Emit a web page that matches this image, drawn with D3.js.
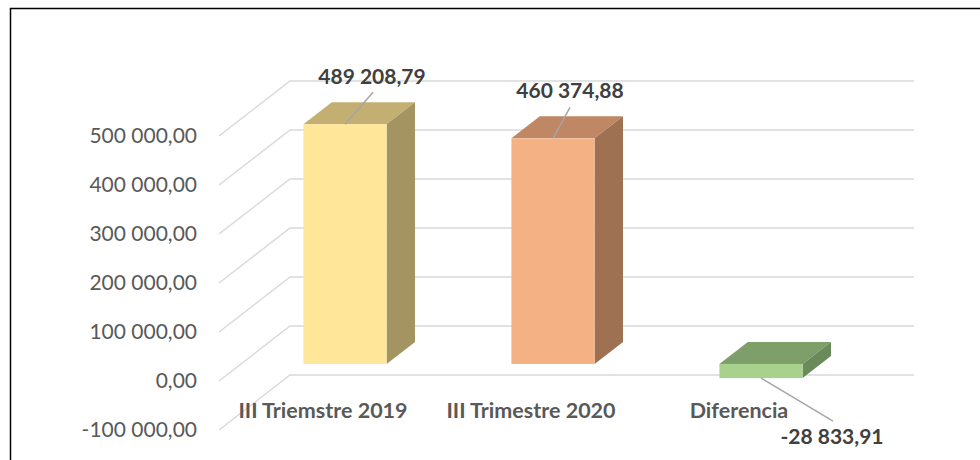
<!DOCTYPE html>
<html>
<head>
<meta charset="utf-8">
<script src="https://cdn.jsdelivr.net/npm/d3@7"></script>
<style>
  body { margin: 0; background: #fff; }
  svg { display: block; }
</style>
</head>
<body>
<svg id="chart" width="980" height="460"></svg>
<script>
// data
let categories = ["III Triemstre 2019", "III Trimestre 2020", "Diferencia"];
let values = [489208.79, 460374.88, -28833.91];
let valueLabels = ["489 208,79", "460 374,88", "-28 833,91"];
let tickValues = [-100000, 0, 100000, 200000, 300000, 400000, 500000];
let tickLabels = ["-100 000,00", "0,00", "100 000,00", "200 000,00", "300 000,00", "400 000,00", "500 000,00"];

let frontColors = ["#FFE699", "#F4B183", "#A9D18E"];
let topColors = ["#C4AF72", "#BF8763", "#7F9F6A"];
let sideColors = ["#A39462", "#9E7152", "#6B8A5A"];

let chart = d3.select("#chart");
let font = "Lato, 'Open Sans', sans-serif";

// frame
chart.append("rect")
    .attr("x", 10.5).attr("y", 8.5)
    .attr("width", 1000).attr("height", 500)
    .attr("fill", "#fff")
    .attr("stroke", "#000")
    .attr("stroke-width", 1.5);

// depth of the 3d box (front plane -> back wall)
let DX = 71, DY = 55;

let x = d3.scaleBand()
    .domain(categories)
    .range([219, 843])
    .paddingInner(0.6)
    .paddingOuter(0.3);

let y = d3.scaleLinear()
    .domain([-100000, 500000])
    .range([430, 136]);

// project a point at depth z (0 = front, 1 = back)
function px(xv, z) { return xv + z * DX; }
function py(yv, z) { return yv - z * DY; }
function pts(arr) { return arr.map(function(p) { return p.join(","); }).join(" "); }

// side wall + back wall gridlines
let grid = chart.append("g");
tickValues.forEach(function(t) {
    grid.append("polyline")
        .attr("points", pts([
            [x.range()[0], y(t)],
            [px(x.range()[0], 1), py(y(t), 1)],
            [px(x.range()[1], 1), py(y(t), 1)]
        ]))
        .attr("fill", "none")
        .attr("stroke", "#D9D9D9")
        .attr("stroke-width", 1.5);
});

// value axis labels
chart.append("g").selectAll("text")
    .data(tickValues)
    .enter()
    .append("text")
        .attr("x", 197)
        .attr("y", function(d) { return y(d); })
        .attr("dy", "0.35em")
        .attr("text-anchor", "end")
        .attr("font-family", font)
        .attr("font-size", "21px")
        .attr("fill", "#595959")
        .text(function(d, i) { return tickLabels[i]; });

// bars
let z0 = 0.31, z1 = 0.71;
let bars = chart.append("g");
categories.forEach(function(c, i) {
    let xl = x(c), xr = x(c) + x.bandwidth();
    let yt = y(Math.max(values[i], 0)), yb = y(Math.min(values[i], 0));
    // top face
    bars.append("polygon")
        .attr("points", pts([
            [px(xl, z0), py(yt, z0)], [px(xr, z0), py(yt, z0)],
            [px(xr, z1), py(yt, z1)], [px(xl, z1), py(yt, z1)]
        ]))
        .attr("fill", topColors[i]);
    // right side face
    bars.append("polygon")
        .attr("points", pts([
            [px(xr, z0), py(yt, z0)], [px(xr, z1), py(yt, z1)],
            [px(xr, z1), py(yb, z1)], [px(xr, z0), py(yb, z0)]
        ]))
        .attr("fill", sideColors[i]);
    // front face
    bars.append("rect")
        .attr("x", px(xl, z0))
        .attr("y", py(yt, z0))
        .attr("width", xr - xl)
        .attr("height", yb - yt)
        .attr("fill", frontColors[i]);
});

// category labels (on the front edge of the floor)
chart.append("g").selectAll("text")
    .data(categories)
    .enter()
    .append("text")
        .attr("x", function(d) { return x(d) + x.bandwidth() / 2; })
        .attr("y", 410)
        .attr("dy", "0.35em")
        .attr("text-anchor", "middle")
        .attr("font-family", font)
        .attr("font-size", "21.5px")
        .attr("font-weight", "bold")
        .attr("fill", "#595959")
        .text(function(d) { return d; });

// data labels with leader lines
let labelOffsets = [[27, -48], [17, -48], [71, 59]];
let lineStart = [[28, -32], [17, -31], [72, 43]];
let dl = chart.append("g");
categories.forEach(function(c, i) {
    let ax = px(x(c) + x.bandwidth() / 2, z0);
    let ay = py(y(values[i]), z0);
    dl.append("line")
        .attr("x1", ax).attr("y1", ay)
        .attr("x2", ax + lineStart[i][0]).attr("y2", ay + lineStart[i][1])
        .attr("stroke", "#A6A6A6")
        .attr("stroke-width", 1.5);
    dl.append("text")
        .attr("x", ax + labelOffsets[i][0])
        .attr("y", ay + labelOffsets[i][1])
        .attr("dy", "0.35em")
        .attr("text-anchor", "middle")
        .attr("font-family", font)
        .attr("font-size", "21px")
        .attr("font-weight", "bold")
        .attr("fill", "#404040")
        .text(valueLabels[i]);
});
</script>
</body>
</html>
